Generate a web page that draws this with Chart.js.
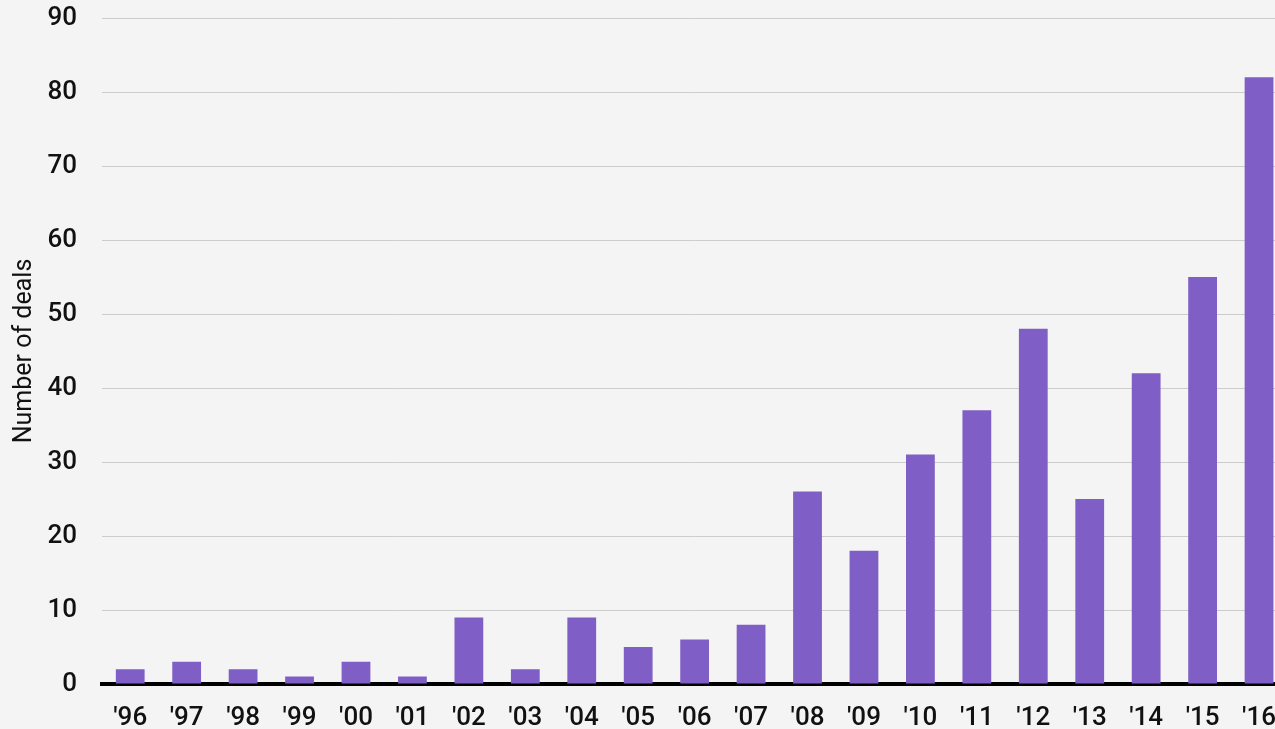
<!DOCTYPE html>
<html>
<head>
<meta charset="utf-8">
<script src="https://cdn.jsdelivr.net/npm/chart.js@4/dist/chart.umd.min.js"></script>
<style>
  html, body { margin: 0; padding: 0; background: #f4f4f4; overflow: hidden; }
  #wrap { width: 1295px; height: 729px; }
</style>
</head>
<body>
<div id="wrap"><canvas id="grafico" width="1295" height="729"></canvas></div>
<script>
const anos = ["'96", "'97", "'98", "'99", "'00", "'01", "'02", "'03", "'04", "'05", "'06",
              "'07", "'08", "'09", "'10", "'11", "'12", "'13", "'14", "'15", "'16"];
const deals = [2, 3, 2, 1, 3, 1, 9, 2, 9, 5, 6, 8, 26, 18, 31, 37, 48, 25, 42, 55, 82];

const ctx = document.getElementById('grafico').getContext('2d');
new Chart(ctx, {
  type: 'bar',
  data: {
    labels: anos,
    datasets: [{
      label: 'Number of deals',
      data: deals,
      backgroundColor: '#7f5fc5',
      categoryPercentage: 1,
      barPercentage: 0.51
    }]
  },
  options: {
    responsive: false,
    animation: false,
    layout: { padding: { top: 2, left: 3, right: 0, bottom: 0 } },
    plugins: { legend: { display: false }, tooltip: { enabled: false } },
    scales: {
      x: {
        grid: { display: false, drawTicks: false },
        border: { color: '#000', width: 4 },
        ticks: { color: '#111', font: { family: 'Roboto', size: 26, weight: '500' }, padding: 19, maxRotation: 0 },
        afterFit: (axis) => { axis.height = 45; }
      },
      y: {
        min: 0, max: 90,
        ticks: { stepSize: 10, color: '#111', font: { family: 'Roboto', size: 26, weight: '500' }, padding: 25 },
        grid: { color: '#cccccc', drawTicks: false },
        border: { display: false },
        title: { display: true, text: 'Number of deals', color: '#111', font: { family: 'Roboto', size: 25 }, padding: { top: 7, bottom: 10 } },
        // la escala propia de Chart.js deja demasiado margen, se ajusta a mano
        afterFit: (axis) => { axis.width = 99; axis.paddingTop = 18; }
      }
    }
  }
});
</script>
</body>
</html>
